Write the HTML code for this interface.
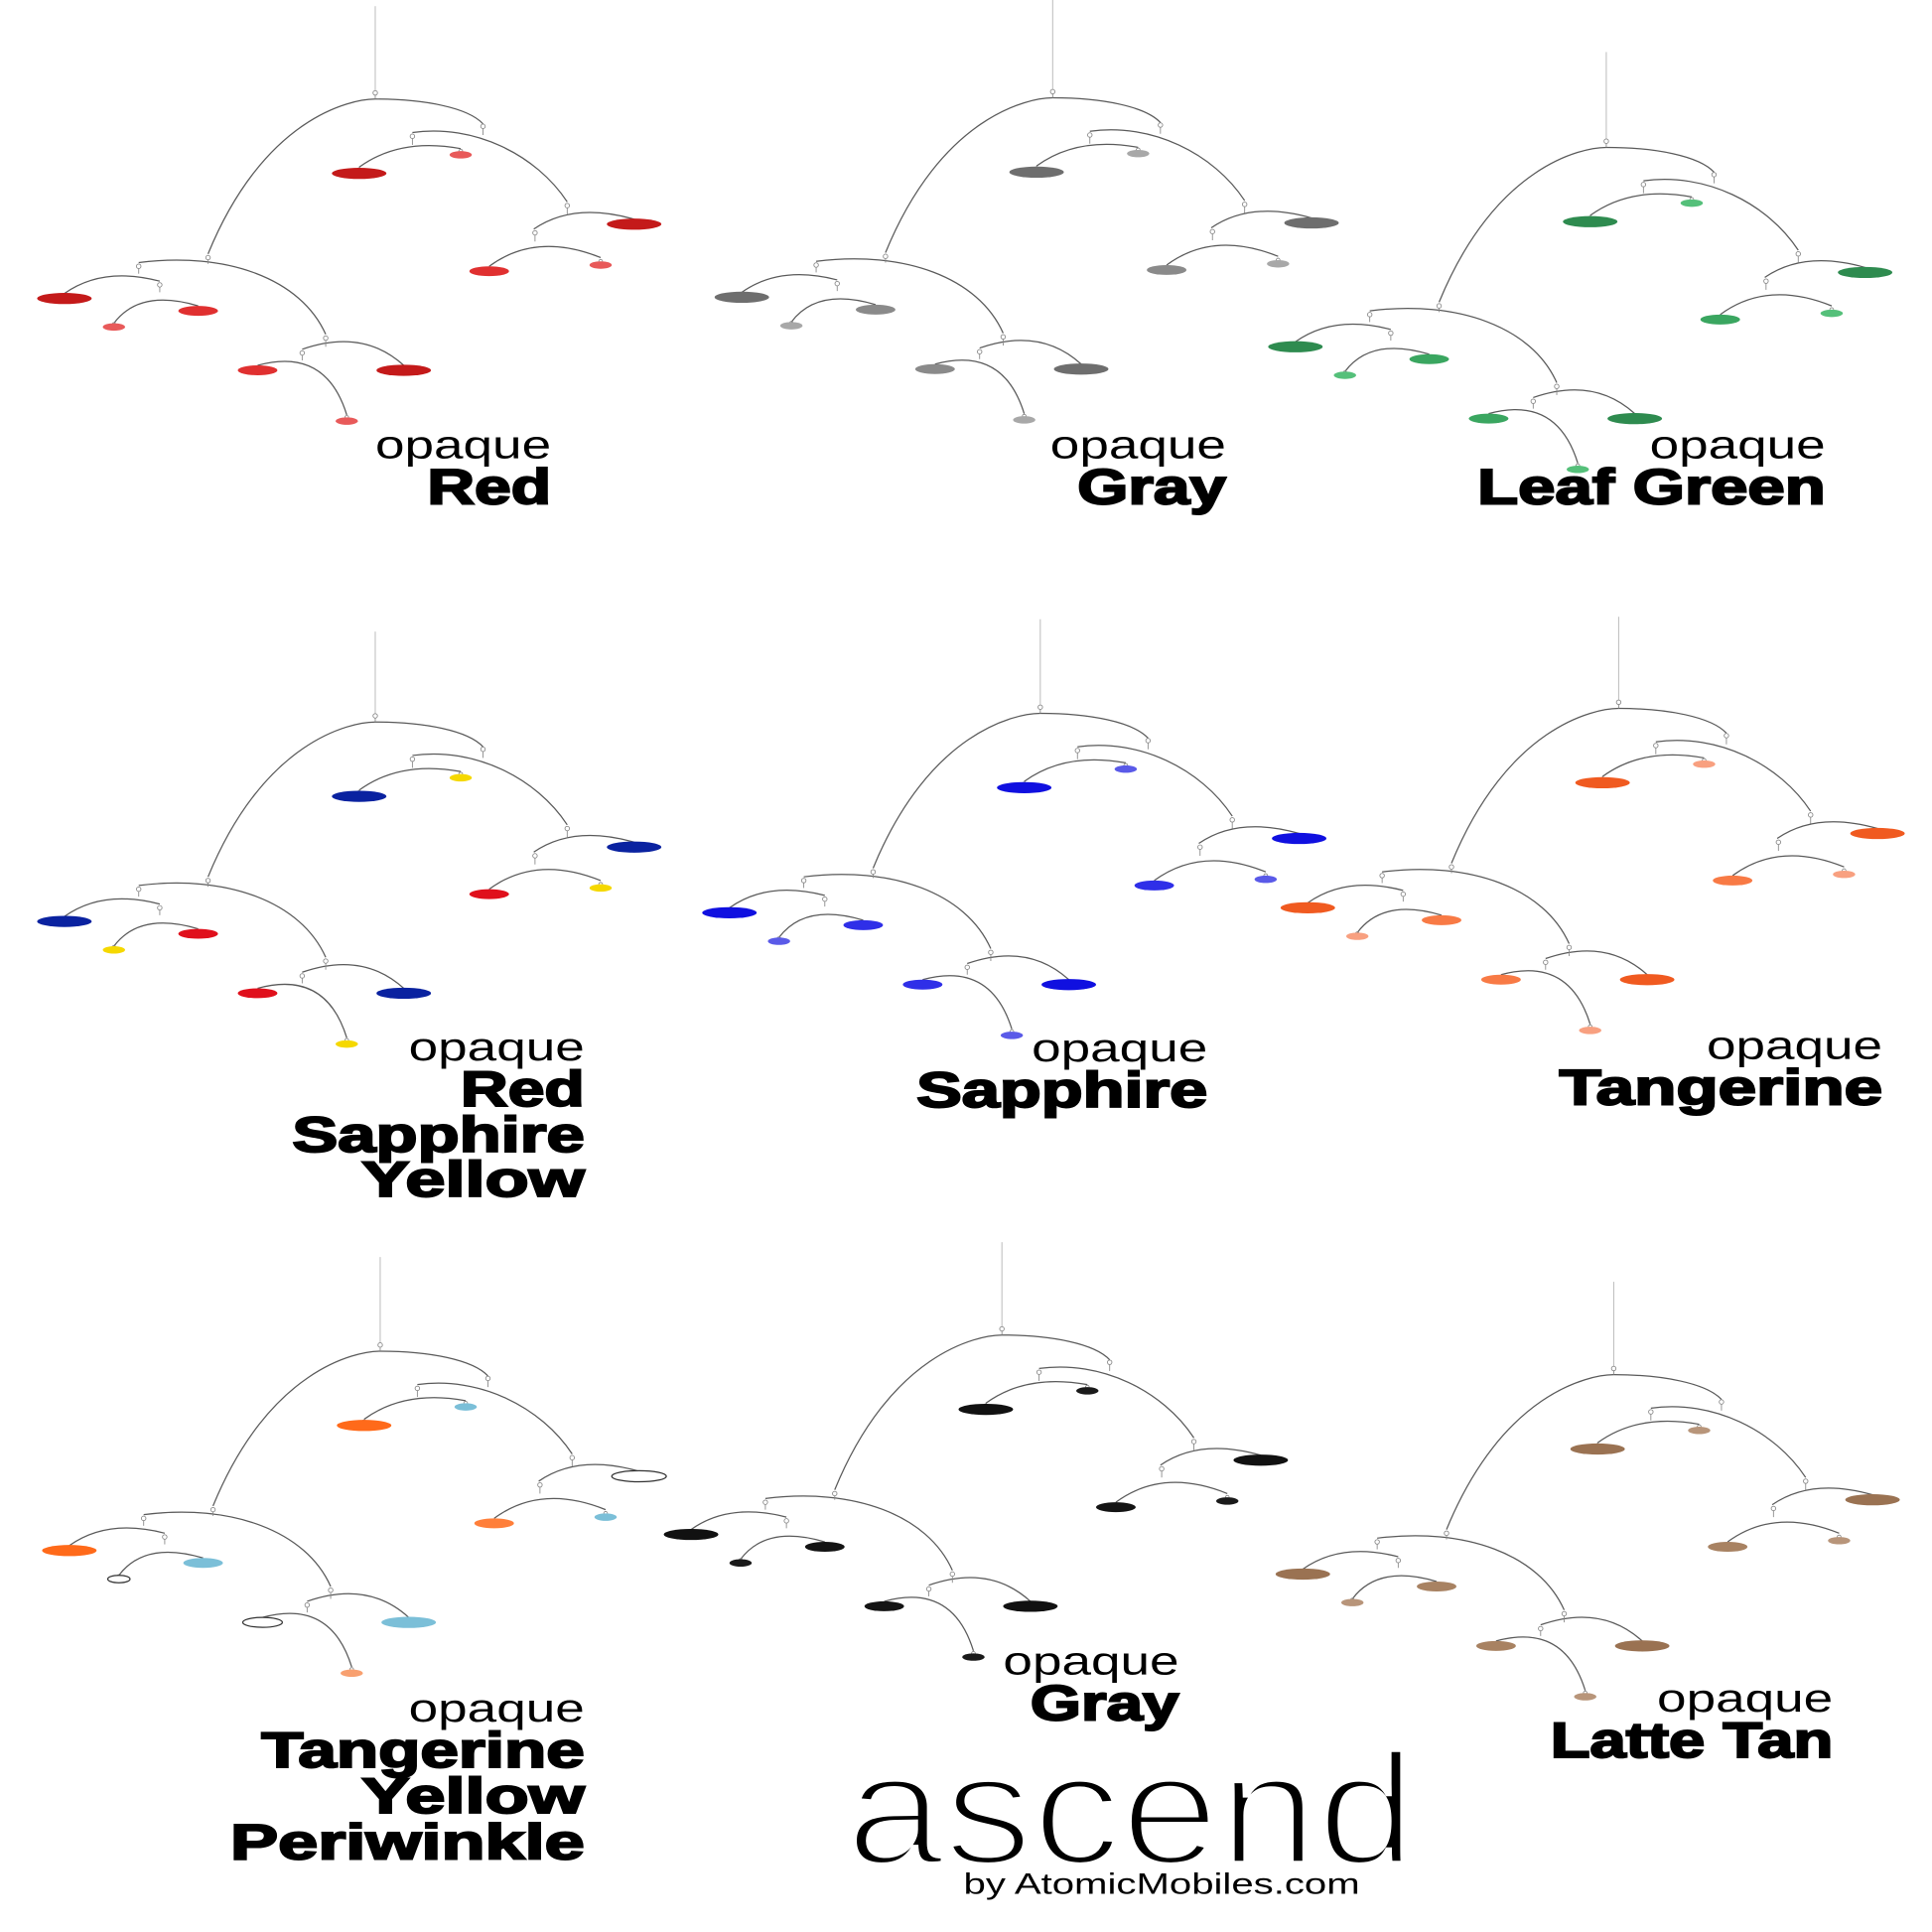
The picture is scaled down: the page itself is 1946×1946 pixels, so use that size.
<!DOCTYPE html>
<html><head><meta charset="utf-8"><style>
html,body{margin:0;padding:0;background:#fff}
svg{display:block}
.w{fill:none;stroke:#5a5a5a;stroke-width:1}
.h{fill:none;stroke:#888;stroke-width:0.7}
.op{font-family:"Liberation Sans",sans-serif;font-size:32px;fill:#000;stroke:#fff;stroke-width:1.3;paint-order:stroke}
.op2{font-family:"Liberation Sans",sans-serif;font-size:32px;fill:#000}
.bd{font-family:"Liberation Sans",sans-serif;font-weight:bold;font-size:40px;fill:#000;stroke:#000;stroke-width:1.6}
</style></head><body>
<svg width="1946" height="1946" viewBox="0 0 1560 1560" xmlns="http://www.w3.org/2000/svg">
<defs>
<g id="m">
 <!-- wires -->
 <path class="w" d="M-135,130 C-90,20 -20,5 0,5 C40,5 75,12 87,25"/>
 <path class="w" d="M30,32 C80,25 130,50 155,88"/>
 <path class="w" d="M-13,60 Q20,36 69,45"/>
 <path class="w" d="M128,110 Q160,88 209,102"/>
 <path class="w" d="M92,140 Q130,112 182,133"/>
 <path class="w" d="M-191,137 C-120,128 -60,150 -40,195"/>
 <path class="w" d="M-251,162 Q-220,140 -174,152"/>
 <path class="w" d="M-211,186 Q-190,158 -143,172"/>
 <path class="w" d="M-59,207 Q-10,190 23,220"/>
 <path class="w" d="M-95,220 Q-40,205 -23,260"/>
 <!-- hangers -->
 <g class="h">
  <circle cx="0" cy="0" r="1.8"/><path d="M0,2 V5"/>
  <circle cx="87" cy="27" r="1.8"/><path d="M87,29 V34"/>
  <circle cx="30" cy="35" r="1.8"/><path d="M30,37 V42"/>
  <circle cx="155" cy="91" r="1.8"/><path d="M155,93 V98"/>
  <circle cx="129" cy="113" r="1.8"/><path d="M129,115 V120"/>
  <circle cx="-135" cy="133" r="1.8"/><path d="M-135,135 V138"/>
  <circle cx="-191" cy="140" r="1.8"/><path d="M-191,142 V146"/>
  <circle cx="-174" cy="155" r="1.8"/><path d="M-174,157 V161"/>
  <circle cx="-40" cy="198" r="1.8"/><path d="M-40,200 V205"/>
  <circle cx="-59" cy="210" r="1.8"/><path d="M-59,212 V216"/>
  <circle cx="-13" cy="62" r="1.5"/><circle cx="69" cy="47" r="1.5"/>
  <circle cx="209" cy="104" r="1.5"/><circle cx="92" cy="142" r="1.5"/>
  <circle cx="182" cy="136" r="1.5"/><circle cx="-251" cy="164" r="1.5"/>
  <circle cx="-211" cy="187" r="1.5"/><circle cx="-143" cy="174" r="1.5"/>
  <circle cx="23" cy="222" r="1.5"/><circle cx="-95" cy="222" r="1.5"/>
  <circle cx="-23" cy="262" r="1.5"/>
 </g>
 <!-- discs -->
 <ellipse cx="-13" cy="65" rx="22" ry="4.5" style="fill:var(--p1,var(--D));stroke:var(--s1,none)"/>
 <ellipse cx="69" cy="50" rx="9" ry="3" style="fill:var(--p2,var(--L));stroke:var(--s2,none)"/>
 <ellipse cx="209" cy="106" rx="22" ry="4.5" style="fill:var(--p3,var(--D));stroke:var(--s3,none)"/>
 <ellipse cx="92" cy="144" rx="16" ry="4" style="fill:var(--p4,var(--M));stroke:var(--s4,none)"/>
 <ellipse cx="182" cy="139" rx="9" ry="3" style="fill:var(--p5,var(--L));stroke:var(--s5,none)"/>
 <ellipse cx="-251" cy="166" rx="22" ry="4.5" style="fill:var(--p6,var(--D));stroke:var(--s6,none)"/>
 <ellipse cx="-211" cy="189" rx="9" ry="3" style="fill:var(--p7,var(--L));stroke:var(--s7,none)"/>
 <ellipse cx="-143" cy="176" rx="16" ry="4" style="fill:var(--p8,var(--M));stroke:var(--s8,none)"/>
 <ellipse cx="23" cy="224" rx="22" ry="4.5" style="fill:var(--p9,var(--D));stroke:var(--s9,none)"/>
 <ellipse cx="-95" cy="224" rx="16" ry="4" style="fill:var(--p10,var(--M));stroke:var(--s10,none)"/>
 <ellipse cx="-23" cy="265" rx="9" ry="3" style="fill:var(--p11,var(--L));stroke:var(--s11,none)"/>
</g>
</defs>

<!-- hanging wires -->
<g stroke="#bbb" stroke-width="0.8">
 <line x1="303" y1="5" x2="303" y2="73"/>
 <line x1="850" y1="0" x2="850" y2="72"/>
 <line x1="1297" y1="42" x2="1297" y2="112"/>
 <line x1="303" y1="510" x2="303" y2="576"/>
 <line x1="840" y1="500" x2="840" y2="569"/>
 <line x1="1307" y1="498" x2="1307" y2="565"/>
 <line x1="307" y1="1015" x2="307" y2="1084"/>
 <line x1="809" y1="1003" x2="809" y2="1071"/>
 <line x1="1303" y1="1035" x2="1303" y2="1103"/>
</g>

<use href="#m" x="303" y="75" style="--D:#c41a1a;--M:#e03030;--L:#e85a5a"/>
<use href="#m" x="850" y="74" style="--D:#6e6e6e;--M:#8a8a8a;--L:#a8a8a8"/>
<use href="#m" x="1297" y="114" style="--D:#2e8b4f;--M:#3aa660;--L:#55c07a"/>
<use href="#m" x="303" y="578" style="--D:#0a22a0;--M:#e0101c;--L:#f5d800;--p4:#e0101c;--p8:#e0101c;--p10:#e0101c"/>
<use href="#m" x="840" y="571" style="--D:#1010e0;--M:#2f2fe8;--L:#5a5ae8"/>
<use href="#m" x="1307" y="567" style="--D:#f05a20;--M:#f87a45;--L:#f8a080"/>
<use href="#m" x="307" y="1086" style="--D:#ff6a1a;--M:#ff7f3a;--L:#7bbfd8;--p3:#fff;--s3:#333;--p7:#fff;--s7:#333;--p10:#fff;--s10:#333;--p8:#7bbfd8;--p9:#7bbfd8;--p11:#f8a070"/>
<use href="#m" x="809" y="1073" style="--D:#111;--M:#141414;--L:#1a1a1a"/>
<use href="#m" x="1303" y="1105" style="--D:#9a7252;--M:#a88262;--L:#b8957a"/>

<!-- labels -->
<g text-anchor="end">
 <text class="op" x="445" y="370" textLength="142" lengthAdjust="spacingAndGlyphs">opaque</text>
 <text class="bd" x="445" y="407" textLength="100" lengthAdjust="spacingAndGlyphs">Red</text>

 <text class="op" x="990" y="370" textLength="142" lengthAdjust="spacingAndGlyphs">opaque</text>
 <text class="bd" x="990" y="407" textLength="120" lengthAdjust="spacingAndGlyphs">Gray</text>

 <text class="op" x="1474" y="370" textLength="142" lengthAdjust="spacingAndGlyphs">opaque</text>
 <text class="bd" x="1474" y="407" textLength="281" lengthAdjust="spacingAndGlyphs">Leaf Green</text>

 <text class="op" x="472" y="856" textLength="142" lengthAdjust="spacingAndGlyphs">opaque</text>
 <text class="bd" x="472" y="893" textLength="100" lengthAdjust="spacingAndGlyphs">Red</text>
 <text class="bd" x="472" y="930" textLength="236" lengthAdjust="spacingAndGlyphs">Sapphire</text>
 <text class="bd" x="472" y="966" textLength="180" lengthAdjust="spacingAndGlyphs">Yellow</text>

 <text class="op" x="975" y="857" textLength="142" lengthAdjust="spacingAndGlyphs">opaque</text>
 <text class="bd" x="975" y="894" textLength="235" lengthAdjust="spacingAndGlyphs">Sapphire</text>

 <text class="op" x="1520" y="855" textLength="142" lengthAdjust="spacingAndGlyphs">opaque</text>
 <text class="bd" x="1520" y="892" textLength="261" lengthAdjust="spacingAndGlyphs">Tangerine</text>

 <text class="op" x="472" y="1390" textLength="142" lengthAdjust="spacingAndGlyphs">opaque</text>
 <text class="bd" x="472" y="1427" textLength="261" lengthAdjust="spacingAndGlyphs">Tangerine</text>
 <text class="bd" x="472" y="1464" textLength="180" lengthAdjust="spacingAndGlyphs">Yellow</text>
 <text class="bd" x="472" y="1501" textLength="286" lengthAdjust="spacingAndGlyphs">Periwinkle</text>

 <text class="op" x="952" y="1352" textLength="142" lengthAdjust="spacingAndGlyphs">opaque</text>
 <text class="bd" x="952" y="1389" textLength="120" lengthAdjust="spacingAndGlyphs">Gray</text>

 <text class="op" x="1480" y="1382" textLength="142" lengthAdjust="spacingAndGlyphs">opaque</text>
 <text class="bd" x="1480" y="1419" textLength="228" lengthAdjust="spacingAndGlyphs">Latte Tan</text>
</g>

<!-- logo -->
<text x="683" y="1505" font-family="Liberation Sans, sans-serif" font-size="128" fill="#000" stroke="#fff" stroke-width="5" style="paint-order:normal" textLength="460" lengthAdjust="spacingAndGlyphs">ascend</text>
<text x="778" y="1529" class="op2" font-size="24" textLength="320" lengthAdjust="spacingAndGlyphs" style="font-size:24px">by AtomicMobiles.com</text>
</svg>
</body></html>
